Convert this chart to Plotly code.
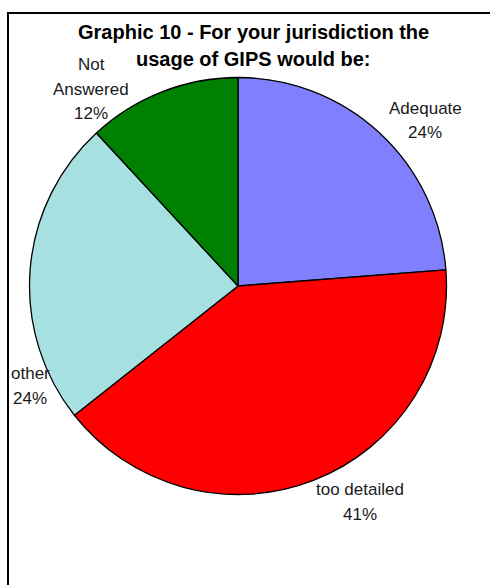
import plotly.graph_objects as go

# Survey answers, drawn clockwise from 12 o'clock
categories = ["Adequate", "too detailed", "other", "Not Answered"]
values = [24, 41, 24, 12]
colors = ["#8080FF", "#FF0000", "#A6E0E0", "#008000"]

# Label lines per slice (name may wrap onto two lines)
label_lines = [["Adequate"], ["too detailed"], ["other"], ["Not", "Answered"]]
# Label anchor (pixel x, pixel y of first line) for each slice
label_pos = [(425, 108), (360, 489), (30, 373), (91, 64)]

W, H = 490, 585
LINE_GAP = 25

total = sum(values)
percents = [round(v / total * 100) for v in values]

cx, cy, r = 238, 286, 208.5

fig = go.Figure(
    go.Pie(
        labels=categories,
        values=values,
        sort=False,
        direction="clockwise",
        rotation=0,
        marker=dict(colors=colors, line=dict(color="black", width=1.3)),
        textinfo="none",
        hoverinfo="label+percent",
        showlegend=False,
        domain=dict(
            x=[(cx - r) / W, (cx + r) / W],
            y=[1 - (cy + r) / H, 1 - (cy - r) / H],
        ),
    )
)

annotations = []
font_lbl = dict(family="Liberation Sans, Arial, sans-serif", size=17, color="#1a1a1a")
for lines, (px, py), pct in zip(label_lines, label_pos, percents):
    texts = lines + [f"{pct}%"]
    for i, t in enumerate(texts):
        annotations.append(
            dict(
                text=t,
                x=px / W,
                y=1 - (py + i * LINE_GAP) / H,
                xref="paper",
                yref="paper",
                xanchor="center",
                yanchor="middle",
                showarrow=False,
                font=font_lbl,
            )
        )

# Two-line chart title
title_lines = ["Graphic 10 - For your jurisdiction the", "usage of GIPS would be:"]
for i, t in enumerate(title_lines):
    annotations.append(
        dict(
            text=f"<b>{t}</b>",
            x=253 / W,
            y=1 - (32 + i * 27) / H,
            xref="paper",
            yref="paper",
            xanchor="center",
            yanchor="middle",
            showarrow=False,
            font=dict(family="Liberation Sans, Arial, sans-serif", size=20, color="#000000"),
        )
    )

fig.update_layout(
    width=W,
    height=H,
    margin=dict(l=0, r=0, t=0, b=0),
    paper_bgcolor="white",
    plot_bgcolor="white",
    annotations=annotations,
    shapes=[
        dict(
            type="rect",
            xref="paper",
            yref="paper",
            x0=8 / W,
            x1=1.05,
            y0=-0.05,
            y1=1 - 13 / H,
            line=dict(color="black", width=2),
            fillcolor="rgba(0,0,0,0)",
            layer="above",
        )
    ],
)

fig.write_html("out.html")
